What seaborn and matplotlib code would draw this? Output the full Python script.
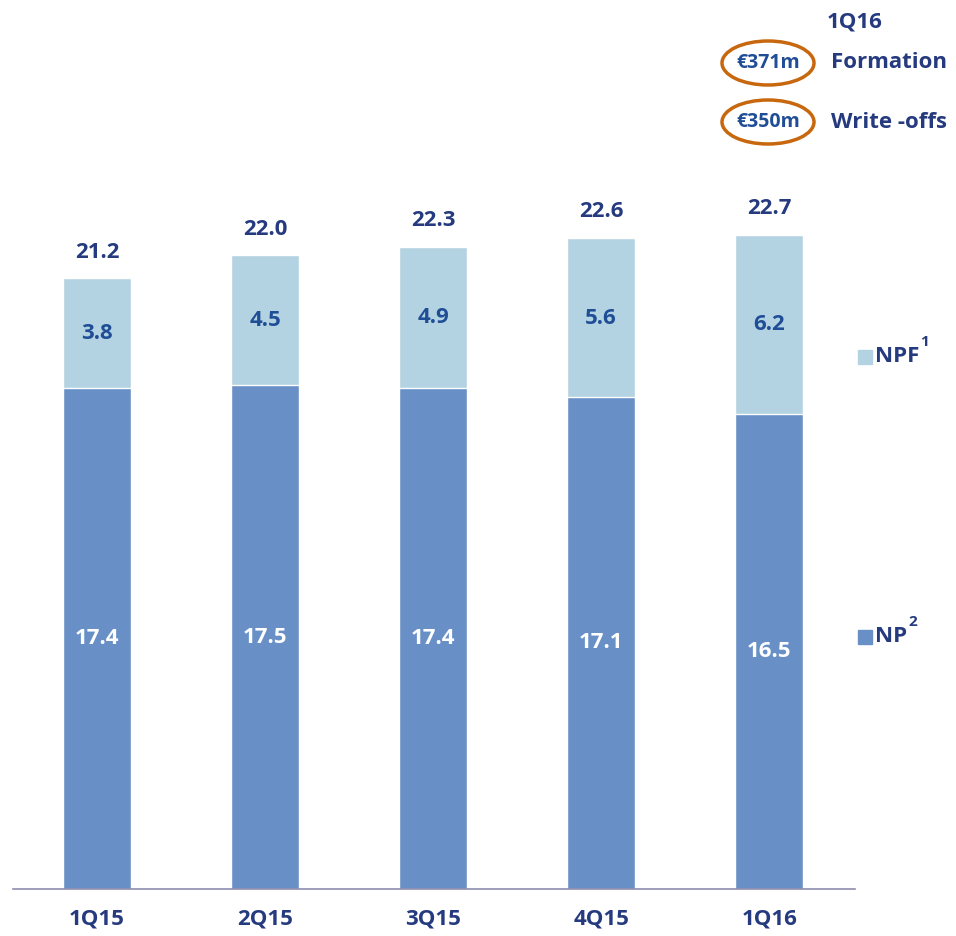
import matplotlib as mpl
from matplotlib import pyplot as plt
from matplotlib.patches import Ellipse, Rectangle
import seaborn as sns
import numpy as np
import pandas as pd

quarters = ["1Q15", "2Q15", "3Q15", "4Q15", "1Q16"]
np_vals = [17.4, 17.5, 17.4, 17.1, 16.5]
npf_vals = [3.8, 4.5, 4.9, 5.6, 6.2]
totals = [21.2, 22.0, 22.3, 22.6, 22.7]

c_np = "#6990c6"
c_npf = "#b4d3e2"
navy = "#253a7f"
blue_txt = "#1f4e96"
orange = "#c8680e"

df = pd.DataFrame({"Quarter": quarters, "NP": np_vals, "NPF": npf_vals, "Total": totals})

sns.set_theme(style="white")
plt.rcParams["font.family"] = ["Open Sans", "DejaVu Sans"]
plt.rcParams["font.weight"] = "bold"
FS = 16

fig = plt.figure(figsize=(9.56, 9.36), dpi=100)
ax = fig.add_axes([13 / 956, 47 / 936, 842 / 956, 889 / 936])

# light layer = total, dark layer = NP on top of it
sns.barplot(data=df, x="Quarter", y="Total", color=c_npf, width=0.405,
            saturation=1, ax=ax)
sns.barplot(data=df, x="Quarter", y="NP", color=c_np, width=0.405,
            saturation=1, ax=ax)

ax.set_xlim(-0.5, 4.51)
ax.set_ylim(0, 30.87)
ax.set_xlabel("")
ax.set_ylabel("")
ax.set_yticks([])
for s in ["top", "right", "left"]:
    ax.spines[s].set_visible(False)
ax.spines["bottom"].set_color("#8e8eb0")
ax.spines["bottom"].set_linewidth(1.2)
ax.tick_params(axis="x", length=0, pad=14, labelsize=FS, labelcolor=navy)
for t in ax.get_xticklabels():
    t.set_fontweight("bold")

for i in range(len(quarters)):
    ax.text(i, np_vals[i] / 2, f"{np_vals[i]:.1f}", ha="center", va="center",
            fontsize=FS, fontweight="bold", color="white")
    ax.text(i, totals[i] - npf_vals[i] / 2, f"{npf_vals[i]:.1f}", ha="center",
            va="center", fontsize=FS, fontweight="bold", color=blue_txt)
    ax.annotate(f"{totals[i]:.1f}", (i, totals[i]), xytext=(0, 19),
                textcoords="offset points", ha="center", va="center",
                fontsize=FS, fontweight="bold", color=navy)

# legend, placed by hand
W, H = 956, 936
for y_pix, col, lab, sup, sx in [(357, c_npf, "NPF", "1", 920), (637, c_np, "NP", "2", 908)]:
    fig.patches.append(Rectangle((858 / W, 1 - (y_pix + 7) / H), 14 / W, 14 / H,
                                 transform=fig.transFigure, color=col))
    fig.text(875 / W, 1 - y_pix / H, lab, ha="left", va="center", fontsize=FS,
             fontweight="bold", color=navy)
    fig.text(sx / W, 1 - (y_pix - 15) / H, sup, ha="left", va="center", fontsize=11,
             fontweight="bold", color=navy)

# top-right annotation
fig.text(855 / W, 1 - 22 / H, "1Q16", ha="center", va="center", fontsize=FS,
         fontweight="bold", color=navy)
for y_pix, amt, lab in [(63, "€371m", "Formation"), (122, "€350m", "Write -offs")]:
    fig.patches.append(Ellipse((768 / W, 1 - y_pix / H), 92 / W, 44 / H,
                               transform=fig.transFigure, fill=False,
                               edgecolor=orange, linewidth=2.5))
    fig.text(768 / W, 1 - y_pix / H, amt, ha="center", va="center", fontsize=14,
             fontweight="bold", color=blue_txt)
    fig.text(831 / W, 1 - y_pix / H, lab, ha="left", va="center", fontsize=FS,
             fontweight="bold", color=navy)

plt.savefig("out.png", dpi=100)
